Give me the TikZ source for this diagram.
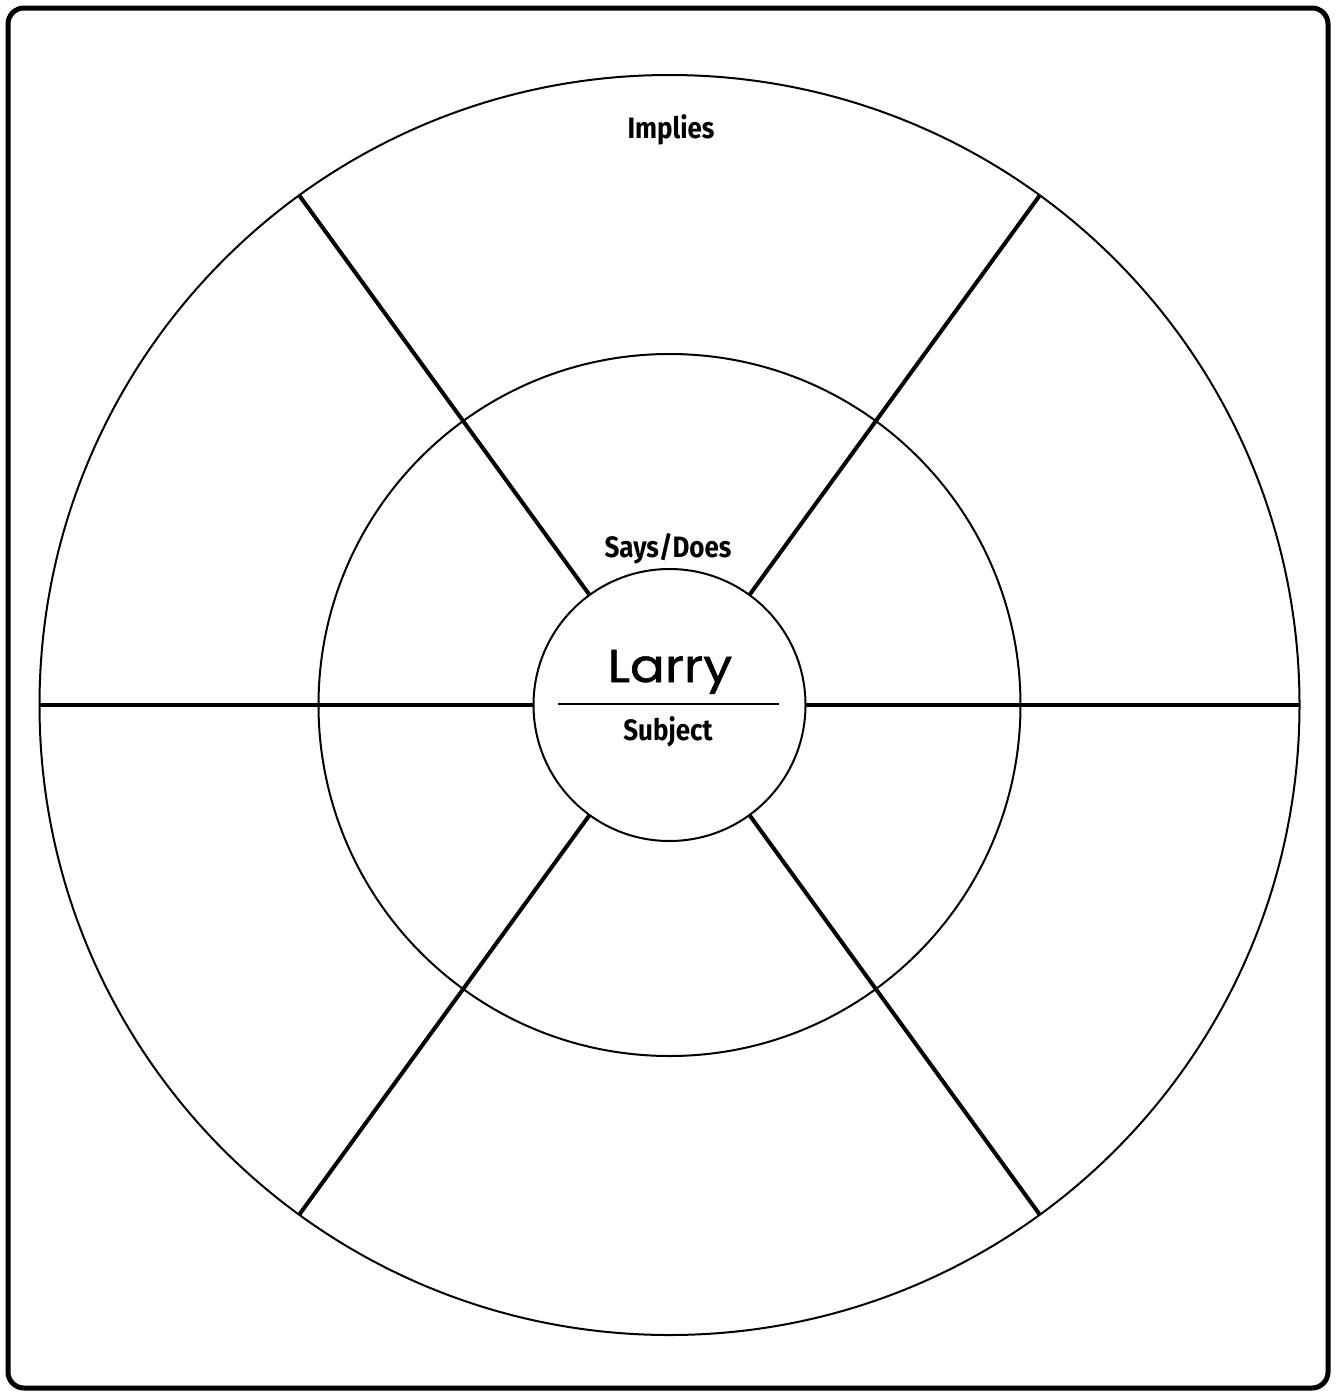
\documentclass[tikz,border=0pt]{standalone}
\usepackage{fontspec}
\setmainfont{Fira Sans}[FakeStretch=0.88]
\newfontfamily\hand{Poppins}[FakeStretch=1.12,FakeBold=1.2]
\begin{document}
\begin{tikzpicture}[x=1pt,y=-1pt,
  ring/.style={circle,draw,line width=2pt,inner sep=0pt,outer sep=0pt},
  spoke/.style={line width=4pt},
  lbl/.style={font=\bfseries\fontsize{29.5}{31}\selectfont,inner sep=0pt,anchor=base}]
\useasboundingbox (0,0) rectangle (1336,1395);
\draw[line width=5pt,rounded corners=16pt] (8,8) rectangle (1328,1388);
\coordinate (C) at (669.5,705);
\node[ring,minimum size=1260pt] (outer) at (C) {};
\node[ring,minimum size=702pt] (middle) at (C) {};
\node[ring,minimum size=272pt] (inner) at (C) {};
\foreach \a in {0,54,126,180,234,306}
  \draw[spoke] (inner.\a) -- (outer.\a);
\coordinate (la) at (558,704);
\coordinate (lb) at (779,704);
\draw[line width=1.5pt] (la) -- (lb);
\node[lbl] (implies) at (671,138) {Implies};
\node[lbl] (says) at (668,557) {Says/Does};
\node[lbl] (subject) at (668,740) {Subject};
\node[font=\hand\fontsize{46}{48}\selectfont,inner sep=0pt,anchor=base] (larry) at (670,682) {Larry};
\end{tikzpicture}
\end{document}
